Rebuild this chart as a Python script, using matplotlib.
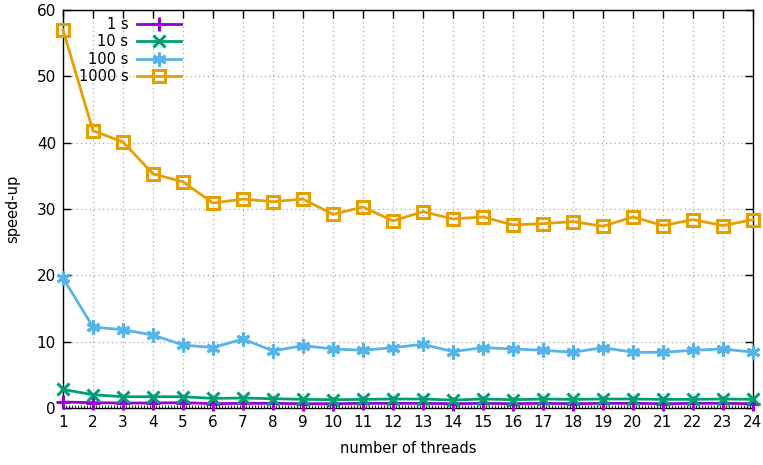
import matplotlib
matplotlib.use("Agg")
import matplotlib.pyplot as plt
from matplotlib.ticker import MultipleLocator

threads = list(range(1, 25))

speedup_1s = [0.9, 0.8, 0.75, 0.75, 0.8, 0.65, 0.7, 0.7, 0.65, 0.65, 0.7, 0.7,
              0.7, 0.65, 0.7, 0.65, 0.7, 0.65, 0.7, 0.7, 0.65, 0.7, 0.7, 0.65]
speedup_10s = [2.8, 2.0, 1.7, 1.7, 1.7, 1.45, 1.5, 1.4, 1.3, 1.25, 1.3, 1.35,
               1.35, 1.2, 1.35, 1.25, 1.35, 1.3, 1.35, 1.35, 1.3, 1.3, 1.35, 1.3]
speedup_100s = [19.6, 12.2, 11.8, 11.0, 9.5, 9.1, 10.4, 8.6, 9.4, 8.9, 8.7, 9.1,
                9.6, 8.5, 9.1, 8.9, 8.7, 8.4, 9.1, 8.4, 8.4, 8.7, 8.9, 8.4]
speedup_1000s = [57.0, 41.8, 40.1, 35.3, 34.1, 30.9, 31.5, 31.1, 31.5, 29.2, 30.3, 28.2,
                 29.6, 28.5, 28.8, 27.6, 27.8, 28.1, 27.4, 28.8, 27.5, 28.4, 27.5, 28.4]

labels = ["1 s", "10 s", "100 s", "1000 s"]
colors = ["#9400d3", "#009e73", "#56b4e9", "#e69f00"]

fig = plt.figure(figsize=(7.63, 4.65), dpi=100)
ax = fig.add_axes([63 / 763, 57 / 465, 690 / 763, 398 / 465])

ax.plot(threads, speedup_1s, color=colors[0], lw=2, marker="+", ms=10, mew=2.2,
        label=labels[0], clip_on=False, zorder=3)
ax.plot(threads, speedup_10s, color=colors[1], lw=2, marker="x", ms=8.5, mew=2.2,
        label=labels[1], clip_on=False, zorder=3)
ax.plot(threads, speedup_100s, color=colors[2], lw=2, marker=(6, 2, 0), ms=10, mew=2.2,
        label=labels[2], clip_on=False, zorder=3)
ax.plot(threads, speedup_1000s, color=colors[3], lw=2, marker="s", ms=9, mew=2.2,
        mfc="none", label=labels[3], clip_on=False, zorder=3)

ax.set_xlim(1, 24)
ax.set_ylim(0, 60)
ax.xaxis.set_major_locator(MultipleLocator(1))
ax.yaxis.set_major_locator(MultipleLocator(10))
ax.xaxis.set_minor_locator(MultipleLocator(0.1))
ax.tick_params(axis="both", which="major", direction="in", length=6, width=1,
               top=True, right=True, labelsize=11, pad=5)
ax.tick_params(axis="x", which="minor", direction="in", length=2, width=0.6,
               top=False)
ax.grid(True, which="major", color="#a8a8a8", linestyle=(0, (1, 2.5)), lw=0.9)
for s in ax.spines.values():
    s.set_linewidth(1)

ax.set_xlabel("number of threads", fontsize=10.5, labelpad=8)
ax.set_ylabel("speed-up", fontsize=10.5, labelpad=12)

leg = ax.legend(loc="upper left", frameon=False, fontsize=10.5, markerfirst=False,
                handlelength=3, handletextpad=0.6, borderaxespad=0.1,
                labelspacing=0.15, bbox_to_anchor=(0.012, 1.0))
for t in leg.get_texts():
    t.set_ha("right")
leg._legend_box.align = "right"

fig.savefig("out.png", dpi=100)
